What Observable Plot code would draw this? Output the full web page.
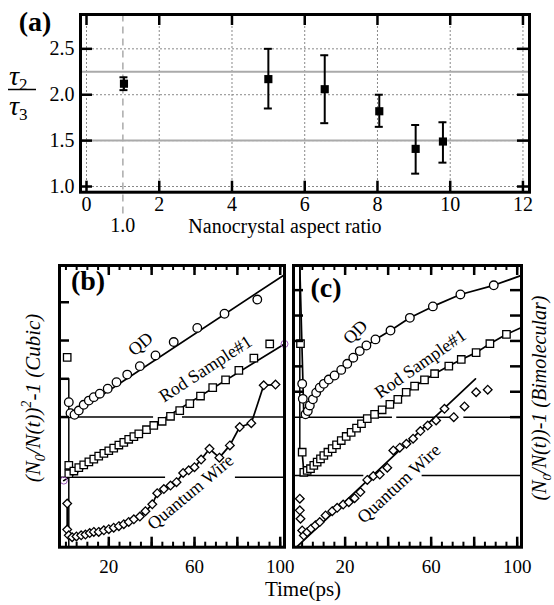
<!DOCTYPE html>
<html><head><meta charset="utf-8">
<script src="https://cdn.jsdelivr.net/npm/d3@7"></script>
<script src="https://cdn.jsdelivr.net/npm/@observablehq/plot@0.6"></script>
<style>
html,body{margin:0;padding:0;background:#fff;}
#wrap{position:relative;width:554px;height:605px;overflow:hidden;}
#wrap svg{position:absolute;left:0;top:0;}
</style></head><body><div id="wrap"></div>
<script>
const W = 554, H = 605;
const serif = "'Liberation Serif','Times New Roman',serif";

// ---------- Panel (a) data ----------
const aspectRatio = [1.03, 5.0, 6.55, 8.05, 9.05, 9.8];
const tauRatio    = [2.12, 2.17, 2.06, 1.82, 1.41, 1.49];
const tauLow      = [2.05, 1.85, 1.69, 1.65, 1.14, 1.26];
const tauHigh     = [2.19, 2.50, 2.43, 2.00, 1.67, 1.70];
const refLevels   = [2.25, 1.5];
const sphereRatio = [1.0];
const aXTicks = [0, 2, 4, 6, 8, 10, 12];
const aYTicks = [1.0, 1.5, 2.0, 2.5];

// ---------- Panel (b) data (cubic), [time ps, offset value] ----------
const bQD = [[1.34,0.39],[2.13,0.10],[4.0,0.06],[6.0,0.17],[8.3,0.32],[10.7,0.43],[13.0,0.52],[15.8,0.61],[19.5,0.74],[23.6,0.91],[28.6,1.11],[34.5,1.33],[41.8,1.61],[50.3,1.96],[61.3,2.33],[74.0,2.70],[89.3,3.07]];
const bQDfit = [[1.34,0],[102,3.72]];
const bRod = [[0.59,1.56],[1.34,-1.26],[1.34,-1.48],[3.7,-1.41],[6.0,-1.32],[8.3,-1.25],[10.7,-1.17],[13.0,-1.10],[15.3,-1.02],[17.7,-0.95],[20.0,-0.88],[22.3,-0.81],[24.7,-0.73],[27.0,-0.66],[29.3,-0.58],[31.7,-0.51],[34.0,-0.44],[37.6,-0.33],[41.0,-0.22],[44.9,-0.11],[48.8,0.02],[53.1,0.17],[57.8,0.35],[62.8,0.55],[68.5,0.77],[74.5,0.97],[80.7,1.22],[87.7,1.54],[95.1,1.91]];
const bRodFit = [[-1,-1.66],[102,1.91]];
const bQW = [[0.59,-2.26],[0.59,-2.94],[1.34,-3.09],[2.9,-3.14],[4.9,-3.12],[7.1,-3.09],[9.1,-3.07],[11.1,-3.03],[13.0,-3.00],[15.3,-3.00],[17.7,-2.96],[20.0,-2.93],[22.3,-2.89],[24.7,-2.85],[27.0,-2.80],[29.3,-2.74],[31.7,-2.67],[34.5,-2.60],[37.1,-2.46],[40.3,-2.28],[42.6,-1.99],[45.7,-1.88],[48.8,-1.79],[51.6,-1.70],[54.7,-1.46],[57.3,-1.39],[60.0,-1.31],[63.1,-1.11],[67.0,-0.83],[71.6,-1.06],[76.5,-0.74],[81.1,-0.26],[86.5,-0.16],[92.3,0.83],[97.8,0.85]];
const bMarkers = [[-1,-1.66],[102,1.91]];
const bBaselines = [{y:0,x1:-3,x2:40.9},{y:0,x1:54.4,x2:102},{y:-1.57,x1:-3,x2:46.5},{y:-1.57,x1:79.1,x2:102}];
const bDrop = [{x:1.34,y1:1.0,y2:-3.4}];
const bLabels = [{t:34.8,v:1.91,text:"QD",angle:-40},{t:65.1,v:1.26,text:"Rod Sample#1",angle:-33},{t:58.1,v:-1.96,text:"Quantum Wire",angle:-40}];

// ---------- Panel (c) data (bimolecular) ----------
const cQD = [[0.04,1.31],[0.33,0.72],[1.58,0.11],[2.65,0.24],[3.58,0.46],[5.0,0.70],[6.55,0.96],[8.2,1.16],[10.1,1.31],[12.4,1.48],[15.1,1.64],[18.2,1.86],[21.0,2.10],[23.8,2.34],[26.8,2.60],[29.9,2.82],[34.1,3.06],[41.1,3.41],[50.1,3.91],[60.8,4.36],[73.6,4.83],[89.1,5.19]];
const cQDfit = [[-1.07,5.97],[0.8,0.05],[3.58,0.46],[6.55,0.96],[10.1,1.31],[15.1,1.64],[21.0,2.10],[26.8,2.60],[34.1,3.06],[41.1,3.41],[50.1,3.91],[60.8,4.36],[73.6,4.83],[89.1,5.19],[102,5.58]];
const cRod = [[-0.75,2.89],[0.04,-1.38],[0.8,-2.17],[2.37,-2.10],[3.9,-2.03],[5.44,-1.90],[7.0,-1.77],[8.55,-1.64],[10.1,-1.51],[12.0,-1.38],[14.0,-1.24],[16.0,-1.09],[18.2,-0.92],[20.5,-0.76],[22.8,-0.60],[25.3,-0.43],[27.6,-0.26],[30.3,-0.06],[33.7,0.11],[37.2,0.29],[40.8,0.50],[44.5,0.70],[48.4,0.98],[52.3,1.22],[56.9,1.47],[61.6,1.71],[68.2,2.01],[74.0,2.27],[80.9,2.54],[87.3,2.89],[95.0,3.26]];
const cRodFit = [[0.04,-1.38],[0.8,-2.17],[5.44,-1.90],[10.1,-1.51],[16.0,-1.09],[22.8,-0.60],[30.3,-0.06],[37.2,0.29],[44.5,0.70],[52.3,1.22],[61.6,1.71],[68.2,2.01],[74.0,2.27],[80.9,2.54],[87.3,2.89],[95.0,3.26],[102,3.53]];
const cQW = [[-1.07,-3.21],[-1.07,-3.67],[-0.75,-4.0],[0.04,-4.46],[0.8,-4.66],[2.37,-4.53],[4.2,-4.39],[6.2,-4.26],[8.2,-4.13],[10.9,-3.87],[14.0,-3.70],[16.3,-3.57],[19.1,-3.44],[21.7,-3.35],[24.4,-3.19],[27.1,-2.95],[30.3,-2.47],[33.1,-2.32],[36.1,-2.26],[39.6,-1.99],[42.4,-1.31],[45.4,-1.20],[48.5,-1.05],[51.6,-0.85],[55.0,-0.55],[58.4,-0.33],[62.3,-0.13],[66.2,0.33],[70.5,0.0],[75.5,0.42],[80.9,0.98],[86.3,1.08]];
const cQWfit = [[-2.6,-5.12],[80.6,1.51]];
const cBaselines = [{y:0,x1:-4,x2:42},{y:0,x1:44,x2:69},{y:0,x1:75.2,x2:102},{y:-2.30,x1:-4,x2:28.7},{y:-2.30,x1:55.8,x2:102}];
const cDrop = [{x:-1.07,y1:5.97,y2:-1.4}];
const cLabels = [{t:24.8,v:3.35,text:"QD",angle:-45},{t:55.0,v:2.1,text:"Rod Sample#1",angle:-35},{t:45,v:-2.62,text:"Quantum Wire",angle:-43}];

// shared time axis ticks
const timeLabels = [20, 60, 100];
const timeMinor = [0,5,10,15,20,25,30,35,40,45,50,55,60,65,70,75,80,85,90,95,100];
const timeMajor = [20,40,60,80,100];
const bYTicks = [0,1,2,3];
const cYTicksLeft = [1,2,3,4,5];
const cYTicksRight = [0,1,2,3,4,5];

const baseStyle = {fontFamily: serif, fontSize: "20px", background: "transparent", color: "black", overflow: "visible"};
const X = d => d[0], Y = d => d[1];

// ---------- Plot (a) ----------
const aPts = aspectRatio.map((x, i) => ({x, y: tauRatio[i], lo: tauLow[i], hi: tauHigh[i]}));
const aFW = 449, aFH = 177.7;
const plotA = Plot.plot({
  width: W, height: H,
  marginLeft: 80, marginRight: W - 529, marginTop: 14, marginBottom: H - 191.7,
  style: baseStyle,
  x: {domain: [-0.165, 12.18]},
  y: {domain: [0.938, 2.874]},
  marks: [
    Plot.ruleX(aXTicks, {x: d => d, stroke: "#888", strokeDasharray: "2,2", strokeWidth: 1}),
    Plot.ruleY(aYTicks, {y: d => d, stroke: "#888", strokeDasharray: "2,2", strokeWidth: 1}),
    Plot.ruleY(refLevels, {y: d => d, stroke: "#aaa", strokeWidth: 2}),
    Plot.ruleX(sphereRatio, {x: d => d, y1: 0.70, y2: 2.874, stroke: "#aaa", strokeDasharray: "7,5", strokeWidth: 1.5}),
    Plot.ruleX(aPts, {x: "x", y1: "lo", y2: "hi", strokeWidth: 2}),
    Plot.ruleY(aPts, {y: "lo", x1: d => d.x - 0.11, x2: d => d.x + 0.11, strokeWidth: 2}),
    Plot.ruleY(aPts, {y: "hi", x1: d => d.x - 0.11, x2: d => d.x + 0.11, strokeWidth: 2}),
    Plot.dot(aPts, {x: "x", y: "y", symbol: "square", r: 4.6, fill: "black"}),
    Plot.tickX(aXTicks, {x: d => d, insetTop: aFH - 11, strokeWidth: 2.5}),
    Plot.tickX(aXTicks, {x: d => d, insetBottom: aFH - 11, strokeWidth: 2.5}),
    Plot.tickY(aYTicks, {y: d => d, insetRight: aFW - 12, strokeWidth: 2.5}),
    Plot.tickY(aYTicks, {y: d => d, insetLeft: aFW - 12, strokeWidth: 2.5}),
    Plot.frame({strokeWidth: 3}),
    Plot.axisX(aXTicks, {tickSize: 0, tickPadding: 5, label: null}),
    Plot.axisY(aYTicks, {tickSize: 0, tickPadding: 6, tickFormat: d3.format(".1f"), label: null}),
    Plot.text(sphereRatio, {x: d => d, frameAnchor: "bottom", lineAnchor: "bottom", dy: 40, text: d => d.toFixed(1)})
  ]
});

// ---------- helper for (b) and (c) ----------
function decayPanel(cfg) {
  const fw = cfg.right - cfg.left, fh = 546.7 - 265;
  return Plot.plot({
    width: W, height: H,
    marginLeft: cfg.left, marginRight: W - cfg.right, marginTop: 265, marginBottom: H - 546.7,
    style: baseStyle,
    x: {domain: cfg.xdomain},
    y: {domain: cfg.ydomain, axis: null},
    marks: [
      Plot.ruleY(cfg.baselines, {y: "y", x1: "x1", x2: "x2", strokeWidth: 1.5}),
      Plot.ruleX(cfg.drop, {x: "x", y1: "y1", y2: "y2", strokeWidth: 1.5}),
      Plot.line(cfg.qdFit, {x: X, y: Y, strokeWidth: 1.7}),
      Plot.line(cfg.rodFit, {x: X, y: Y, strokeWidth: 1.7}),
      Plot.line(cfg.qwFit, {x: X, y: Y, strokeWidth: 1.7}),
      Plot.dot(cfg.qw, {x: X, y: Y, symbol: "diamond2", r: 3.9, stroke: "black", fill: "white", strokeWidth: 1.3}),
      Plot.dot(cfg.rod, {x: X, y: Y, symbol: "square", r: 4.2, stroke: "black", fill: "white", strokeWidth: 1.3}),
      Plot.dot(cfg.qd, {x: X, y: Y, r: 4.3, stroke: "black", fill: "white", strokeWidth: 1.3}),
      Plot.dot(cfg.markers, {x: X, y: Y, r: 3.5, stroke: "#9b59b6", fill: "none", strokeWidth: 1}),
      Plot.text(cfg.labels, {x: "t", y: "v", text: "text", rotate: "angle", fontSize: 18}),
      Plot.tickX(timeMinor, {x: d => d, insetTop: fh - 5, strokeWidth: 2}),
      Plot.tickX(timeMajor, {x: d => d, insetTop: fh - 10, strokeWidth: 2.5}),
      Plot.tickX(timeMinor, {x: d => d, insetBottom: fh - 5, strokeWidth: 2}),
      Plot.tickX(timeMajor, {x: d => d, insetBottom: fh - 10, strokeWidth: 2.5}),
      Plot.tickY(cfg.yTicksLeft, {y: d => d, insetRight: fw - 10, strokeWidth: 2.5}),
      Plot.tickY(cfg.yTicksRight, {y: d => d, insetLeft: fw - 11, strokeWidth: 2.5}),
      Plot.frame({strokeWidth: 3}),
      Plot.axisX(timeLabels, {tickSize: 0, tickPadding: 12, fontSize: 19, label: null})
    ]
  });
}

const plotB = decayPanel({
  left: 59, right: 284, xdomain: [-3, 102], ydomain: [-3.4, 3.96],
  qd: bQD, qdFit: bQDfit, rod: bRod, rodFit: bRodFit, qw: bQW, qwFit: bQW,
  markers: bMarkers, baselines: bBaselines, drop: bDrop, labels: bLabels,
  yTicksLeft: bYTicks, yTicksRight: []
});
const plotC = decayPanel({
  left: 293, right: 521, xdomain: [-4, 102], ydomain: [-5.12, 5.97],
  qd: cQD, qdFit: cQDfit, rod: cRod, rodFit: cRodFit, qw: cQW, qwFit: cQWfit,
  markers: [], baselines: cBaselines, drop: cDrop, labels: cLabels,
  yTicksLeft: cYTicksLeft, yTicksRight: cYTicksRight
});

const wrap = document.getElementById("wrap");
wrap.append(plotA, plotB, plotC);

// ---------- titles / axis labels ----------
const ann = d3.create("svg").attr("width", W).attr("height", H)
  .style("font-family", serif).style("overflow", "visible");
const txt = (x, y, s, size, opts = {}) => ann.append("text").attr("x", x).attr("y", y)
  .attr("text-anchor", opts.anchor || "middle").attr("font-size", size)
  .attr("font-weight", opts.bold ? "bold" : null).attr("font-style", opts.italic ? "italic" : null)
  .text(s);
txt(35, 31, "(a)", 28, {bold: true});
txt(88, 290, "(b)", 28, {bold: true});
txt(326, 297, "(c)", 28, {bold: true});
txt(285, 233, "Nanocrystal aspect ratio", 20);
txt(303, 596, "Time(ps)", 21);

// tau2 / tau3 fraction
const t2 = ann.append("text").attr("x", 9).attr("y", 85).attr("font-size", 28).attr("font-style", "italic");
t2.append("tspan").text("τ");
t2.append("tspan").attr("font-size", 17).attr("dy", 5).attr("font-style", "normal").text("2");
ann.append("line").attr("x1", 8).attr("x2", 36).attr("y1", 89.5).attr("y2", 89.5).attr("stroke", "black").attr("stroke-width", 1.5);
const t3 = ann.append("text").attr("x", 9).attr("y", 115).attr("font-size", 28).attr("font-style", "italic");
t3.append("tspan").text("τ");
t3.append("tspan").attr("font-size", 17).attr("dy", 5).attr("font-style", "normal").text("3");

// rotated y labels
function rotLabel(x, y, size, parts) {
  const t = ann.append("text").attr("transform", `translate(${x},${y}) rotate(-90)`)
    .attr("text-anchor", "middle").attr("font-size", size).attr("font-style", "italic");
  for (const p of parts) {
    const s = t.append("tspan").text(p.s);
    if (p.sub) s.attr("font-size", size * 0.67).attr("dy", 5);
    if (p.sup) s.attr("font-size", size * 0.67).attr("dy", -9);
    if (p.back) s.attr("dy", p.back);
  }
}
rotLabel(40, 398, 21, [{s: "(N"}, {s: "0", sub: true}, {s: "/N(t))", back: -5}, {s: "2", sup: true}, {s: "-1 (Cubic)", back: 9}]);
rotLabel(546, 398, 20, [{s: "(N"}, {s: "0", sub: true}, {s: "/N(t))-1 (Bimolecular)", back: -5}]);

wrap.append(ann.node());
</script></body></html>
